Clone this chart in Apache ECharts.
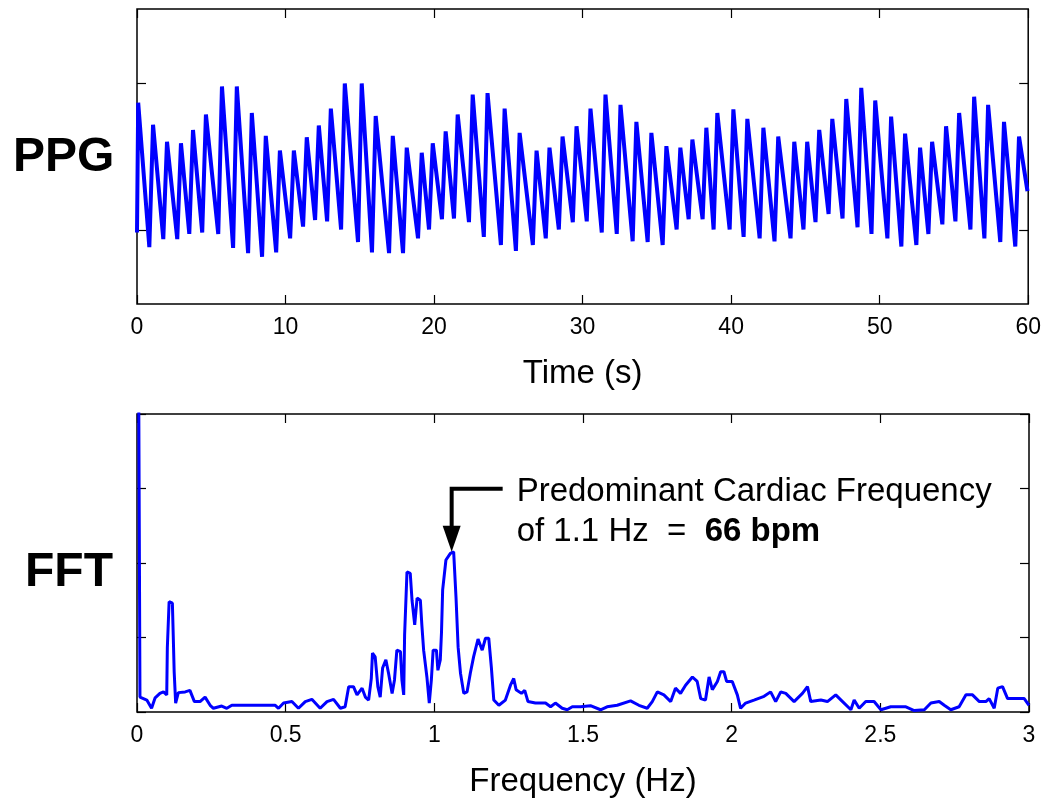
<!DOCTYPE html>
<html>
<head>
<meta charset="utf-8">
<script src="https://cdn.jsdelivr.net/npm/echarts@6/dist/echarts.min.js"></script>
<style>
html,body{margin:0;padding:0;background:#fff;}
#c{width:1044px;height:802px;}
</style>
</head>
<body>
<div id="c"></div>
<script>
// ---------- PPG (time domain) ----------
const ppgPeakTimes = [
  0.08,1.08,2.02,2.96,3.77,4.64,5.72,6.72,7.73,8.67,
  9.62,10.56,11.43,12.24,13.05,13.99,15.13,16.07,17.22,18.16,
  19.17,19.91,20.78,21.59,22.60,23.60,24.75,25.76,26.90,27.77,
  28.65,29.59,30.53,31.54,32.55,33.62,34.63,35.64,36.58,37.39,
  38.33,39.07,40.15,41.09,42.17,43.17,44.25,45.12,45.93,46.81,
  47.75,48.76,49.70,50.77,51.71,52.72,53.53,54.47,55.35,56.36,
  57.30,58.37,59.38
];
const ppgPeakVals = [
  0.73,0.43,0.20,0.18,0.36,0.57,0.95,0.95,0.59,0.28,
  0.08,0.08,0.26,0.42,0.65,0.99,0.99,0.55,0.28,0.12,
  0.05,0.18,0.34,0.57,0.84,0.86,0.65,0.32,0.08,0.12,
  0.27,0.41,0.65,0.84,0.70,0.47,0.32,0.14,0.12,0.23,
  0.39,0.59,0.64,0.51,0.39,0.27,0.20,0.20,0.36,0.51,
  0.78,0.93,0.76,0.54,0.31,0.12,0.20,0.41,0.59,0.81,
  0.70,0.47,0.27
];
const ppgTroughTimes = [
  0.83,1.77,2.71,3.52,4.39,5.47,6.47,7.48,8.42,9.37,
  10.31,11.18,11.99,12.80,13.74,14.88,15.82,16.97,17.91,18.92,
  19.66,20.53,21.34,22.35,23.35,24.50,25.51,26.65,27.52,28.40,
  29.34,30.28,31.29,32.30,33.37,34.38,35.39,36.33,37.14,38.08,
  38.82,39.90,40.84,41.92,42.92,44.00,44.87,45.68,46.56,47.50,
  48.51,49.45,50.52,51.46,52.47,53.28,54.22,55.10,56.11,57.05,
  58.12,59.13
];
const ppgTroughVals = [
  -1.23,-1.12,-1.12,-1.05,-1.03,-1.05,-1.24,-1.31,-1.36,-1.30,
  -1.11,-0.95,-0.86,-0.88,-0.99,-1.16,-1.30,-1.31,-1.31,-1.11,
  -0.99,-0.85,-0.84,-0.89,-1.09,-1.20,-1.28,-1.20,-1.11,-0.99,
  -0.89,-0.88,-1.03,-1.05,-1.15,-1.16,-1.20,-0.99,-0.85,-0.85,
  -0.99,-0.99,-1.09,-1.11,-1.15,-1.11,-0.99,-0.89,-0.78,-0.84,
  -0.96,-1.05,-1.11,-1.22,-1.20,-1.05,-0.92,-0.88,-0.99,-1.11,
  -1.16,-1.22
];
const ppgStart = [0, -1.03];
const ppgEnd = [59.95, -0.47];
const timeTicks = [0, 10, 20, 30, 40, 50, 60];
const ppgTickVals = [-1, 1];

// ---------- FFT (frequency domain) ----------
const fftFreq = [
  0,0.010,0.033,0.049,0.061,0.077,0.089,0.100,0.102,0.108,
  0.119,0.122,0.125,0.130,0.139,0.162,0.178,0.193,0.212,0.229,
  0.246,0.257,0.285,0.302,0.319,0.465,0.476,0.493,0.521,0.543,
  0.566,0.588,0.616,0.639,0.661,0.684,0.700,0.712,0.728,0.740,
  0.757,0.768,0.779,0.788,0.792,0.801,0.810,0.818,0.826,0.837,
  0.846,0.858,0.866,0.874,0.886,0.891,0.897,0.900,0.908,0.919,
  0.925,0.934,0.942,0.953,0.958,0.964,0.975,0.983,0.990,0.996,
  1.007,1.012,1.020,1.024,1.028,1.039,1.054,1.065,1.073,1.080,
  1.088,1.099,1.110,1.121,1.132,1.147,1.161,1.172,1.183,1.192,
  1.200,1.217,1.239,1.256,1.267,1.275,1.293,1.304,1.315,1.340,
  1.374,1.391,1.407,1.430,1.447,1.464,1.492,1.525,1.559,1.581,
  1.615,1.660,1.688,1.716,1.733,1.750,1.772,1.795,1.811,1.828,
  1.845,1.868,1.884,1.896,1.912,1.924,1.935,1.952,1.963,1.974,
  1.983,2.002,2.019,2.030,2.047,2.075,2.109,2.131,2.148,2.165,
  2.182,2.210,2.238,2.255,2.266,2.300,2.322,2.350,2.373,2.401,
  2.412,2.429,2.451,2.479,2.502,2.535,2.586,2.614,2.648,2.670,
  2.698,2.715,2.737,2.765,2.788,2.810,2.833,2.855,2.866,2.883,
  2.895,2.911,2.928,2.951,2.984,3.000
];
const fftAmp = [
  10,0.20,0.16,0.05,0.19,0.25,0.27,0.23,0.86,1.48,
  1.46,1.01,0.54,0.12,0.26,0.27,0.29,0.14,0.14,0.20,
  0.09,0.05,0.08,0.05,0.09,0.09,0.05,0.12,0.14,0.05,
  0.14,0.17,0.05,0.14,0.17,0.05,0.07,0.34,0.34,0.23,
  0.32,0.20,0.16,0.45,0.79,0.74,0.34,0.20,0.59,0.70,
  0.52,0.25,0.43,0.83,0.81,0.43,0.23,1.03,1.88,1.86,
  1.50,1.17,1.53,1.50,1.17,0.83,0.47,0.12,0.43,0.83,
  0.83,0.56,0.70,1.06,1.64,2.04,2.13,2.15,1.53,0.87,
  0.52,0.25,0.27,0.52,0.74,0.98,0.83,0.99,0.99,0.59,
  0.16,0.09,0.16,0.36,0.45,0.30,0.25,0.29,0.14,0.12,
  0.12,0.07,0.12,0.05,0.03,0.07,0.07,0.085,0.03,0.07,
  0.09,0.15,0.09,0.05,0.14,0.27,0.23,0.14,0.32,0.25,
  0.36,0.47,0.41,0.18,0.16,0.47,0.30,0.41,0.54,0.54,
  0.41,0.41,0.23,0.05,0.12,0.16,0.21,0.27,0.14,0.27,
  0.25,0.14,0.25,0.34,0.14,0.16,0.14,0.23,0.14,0.03,
  0.16,0.05,0.14,0.14,0.03,0.07,0.07,0.02,0.03,0.12,
  0.14,0.09,0.03,0.07,0.23,0.23,0.14,0.14,0.18,0.05,
  0.32,0.34,0.18,0.18,0.18,0.09
];
const freqTicks = [0, 0.5, 1, 1.5, 2, 2.5, 3];

const annotLine1 = 'Predominant Cardiac Frequency';
const annotLine2a = 'of 1.1 Hz  =  ';
const annotLine2b = '66 bpm';

// ---------- build series data ----------
const ppgData = [ppgStart];
for (let i = 0; i < ppgPeakTimes.length; i++) {
  ppgData.push([ppgPeakTimes[i], ppgPeakVals[i]]);
  if (i < ppgTroughTimes.length) ppgData.push([ppgTroughTimes[i], ppgTroughVals[i]]);
}
ppgData.push(ppgEnd);
const fftData = fftFreq.map((f, i) => [f, fftAmp[i]]);

const FONT = 'Liberation Sans, Arial, sans-serif';
function tick(extra) {
  return Object.assign({ show: true, inside: true, length: 9, lineStyle: { color: '#000', width: 1.2 } }, extra || {});
}
function xAx(grid, ticks, pos, withLabel, name) {
  const a = {
    type: 'value', gridIndex: grid, min: ticks[0], max: ticks[ticks.length - 1],
    interval: ticks[1] - ticks[0], position: pos,
    axisLine: { show: false, onZero: false }, axisTick: tick(), splitLine: { show: false },
    axisLabel: withLabel
      ? { show: true, showMinLabel: true, showMaxLabel: true, color: '#000', fontSize: 23, fontFamily: FONT, margin: 12 }
      : { show: false }
  };
  if (name) {
    a.name = name; a.nameLocation = 'middle'; a.nameGap = 53;
    a.nameTextStyle = { color: '#000', fontSize: 33, fontFamily: FONT };
  }
  return a;
}
function yAx(grid, min, max, pos, extra) {
  return Object.assign({
    type: 'value', gridIndex: grid, min: min, max: max, position: pos,
    axisLine: { show: false, onZero: false }, axisTick: tick(), splitLine: { show: false },
    axisLabel: { show: false }
  }, extra || {});
}

const chart = echarts.init(document.getElementById('c'), null, { renderer: 'canvas' });
const option = {
  animation: false,
  backgroundColor: '#fff',
  title: [
    { text: 'PPG', left: 8, top: 129, textStyle: { fontSize: 48, fontWeight: 'bold', fontFamily: FONT, color: '#000' } },
    { text: 'FFT', left: 20, top: 544, textStyle: { fontSize: 48, fontWeight: 'bold', fontFamily: FONT, color: '#000' } }
  ],
  grid: [
    { left: 137, top: 9, width: 892, height: 295, show: true, borderColor: '#000', borderWidth: 1.5, backgroundColor: '#fff' },
    { left: 137, top: 414, width: 892, height: 298, show: true, borderColor: '#000', borderWidth: 1.5, backgroundColor: '#fff' }
  ],
  xAxis: [
    xAx(0, timeTicks, 'bottom', true, 'Time (s)'),
    xAx(0, timeTicks, 'top', false),
    xAx(1, freqTicks, 'bottom', true, 'Frequency (Hz)'),
    xAx(1, freqTicks, 'top', false)
  ],
  yAxis: [
    yAx(0, -2, 2, 'left', { axisTick: tick({ customValues: ppgTickVals }) }),
    yAx(0, -2, 2, 'right', { axisTick: tick({ customValues: ppgTickVals }) }),
    yAx(1, 0, 4, 'left', { interval: 1 }),
    yAx(1, 0, 4, 'right', { interval: 1 })
  ],
  series: [
    { type: 'line', xAxisIndex: 0, yAxisIndex: 0, data: ppgData, showSymbol: false, clip: true,
      lineStyle: { color: '#0000ff', width: 4, join: 'miter' }, itemStyle: { color: '#0000ff' } },
    { type: 'line', xAxisIndex: 2, yAxisIndex: 2, data: fftData, showSymbol: false, clip: true,
      lineStyle: { color: '#0000ff', width: 3 }, itemStyle: { color: '#0000ff' } }
  ]
};
chart.setOption(option);

// annotation anchored on the dominant peak above 0.5 Hz
let pk = -1;
for (let i = 0; i < fftFreq.length; i++) {
  if (fftFreq[i] > 0.5 && (pk < 0 || fftAmp[i] > fftAmp[pk])) pk = i;
}
const tip = chart.convertToPixel({ xAxisIndex: 2, yAxisIndex: 2 }, [fftFreq[pk], fftAmp[pk]]);
const tx = tip[0] - 2, ty = tip[1];
chart.setOption({
  graphic: [
    { type: 'polyline', z: 100, shape: { points: [[tx, ty - 24], [tx, ty - 63], [tx + 51, ty - 63]] },
      style: { stroke: '#000', lineWidth: 4, fill: null } },
    { type: 'polygon', z: 100, shape: { points: [[tx - 9, ty - 26], [tx + 9, ty - 26], [tx, ty]] },
      style: { fill: '#000' } },
    { type: 'text', z: 100, x: tx + 65, y: ty - 60,
      style: { text: annotLine1, fontSize: 33, fontFamily: FONT, fill: '#000', verticalAlign: 'middle' } },
    { type: 'text', z: 100, x: tx + 65, y: ty - 20,
      style: { text: '{n|' + annotLine2a + '}{b|' + annotLine2b + '}', verticalAlign: 'middle', fill: '#000',
        rich: { n: { fontSize: 33, fontFamily: FONT, fill: '#000' }, b: { fontSize: 33, fontFamily: FONT, fontWeight: 'bold', fill: '#000' } } } }
  ]
});
</script>
</body>
</html>
